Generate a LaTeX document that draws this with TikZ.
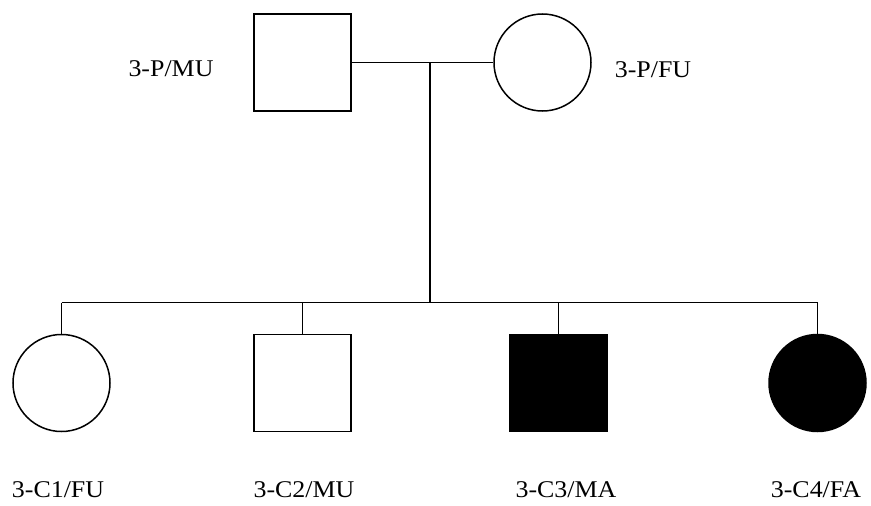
\documentclass[tikz,border=0pt]{standalone}
\usepackage{fontspec}
\setmainfont{Liberation Serif}
\begin{document}
\begin{tikzpicture}[x=1pt,y=-1pt,
  line width=1.5pt,
  male/.style={draw, rectangle, minimum size=97pt, inner sep=0pt},
  female/.style={draw, circle, minimum size=97pt, inner sep=0pt},
  affected/.style={fill=black},
  lbl/.style={font=\fontsize{24}{28}\selectfont, inner sep=0pt, xscale=1.08}]
\useasboundingbox (0,0) rectangle (871,506);
% parents
\node[male] (pm) at (302.5,62.5) {};
\node[female] (pf) at (542.5,62.5) {};
\node[lbl] (lpm) at (171,69) {3-P/MU};
\node[lbl] (lpf) at (653,70) {3-P/FU};
% children
\node[female] (c1) at (61.5,383) {};
\node[male] (c2) at (302.5,383) {};
\node[male, affected] (c3) at (558.5,383) {};
\node[female, affected] (c4) at (817.5,383) {};
\node[lbl] (lc1) at (58,490) {3-C1/FU};
\node[lbl] (lc2) at (304,490) {3-C2/MU};
\node[lbl] (lc3) at (566,490) {3-C3/MA};
\node[lbl] (lc4) at (816,490) {3-C4/FA};
% marriage and sibship lines
\draw (pm.east) -- (pf.west);
\coordinate (mid) at (430,62.5);
\coordinate (sib) at (430,302.5);
\draw (mid) -- (sib);
\draw (c1.north |- sib) -- (c4.north |- sib);
\foreach \c in {c1,c2,c3,c4} \draw (\c.north |- sib) -- (\c.north);
\end{tikzpicture}
\end{document}
